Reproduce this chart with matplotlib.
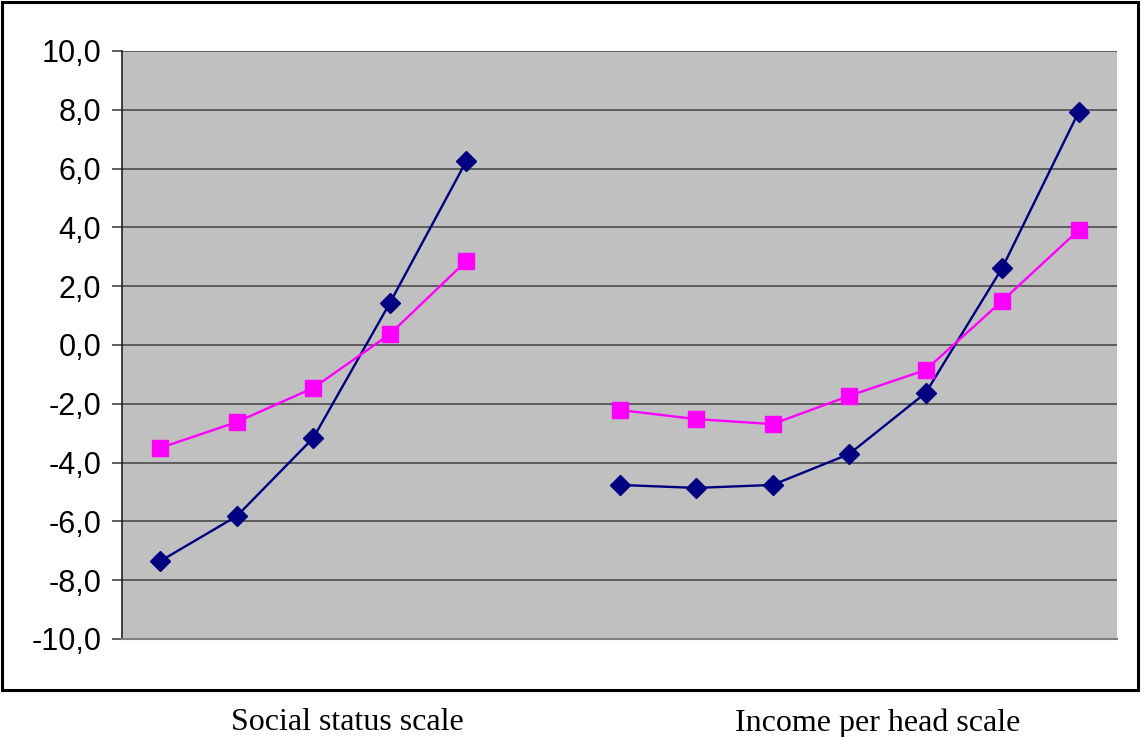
import numpy as np
import matplotlib
matplotlib.use("Agg")
import matplotlib.pyplot as plt
from matplotlib.patches import Rectangle
from matplotlib.ticker import FixedLocator, FuncFormatter

# Scale positions: 5 social status groups, a gap, then 7 income groups
social_pos = [0, 1, 2, 3, 4]
income_pos = [6, 7, 8, 9, 10, 11, 12]

social_blue = [-7.35, -5.82, -3.16, 1.43, 6.26]
social_pink = [-3.50, -2.62, -1.46, 0.37, 2.86]

income_blue = [-4.76, -4.86, -4.76, -3.71, -1.63, 2.62, 7.93]
income_pink = [-2.21, -2.52, -2.69, -1.73, -0.85, 1.50, 3.91]

group_labels = ["Social status scale", "Income per head scale"]
y_ticks = [-10, -8, -6, -4, -2, 0, 2, 4, 6, 8, 10]

W, H = 1141, 737
fig = plt.figure(figsize=(W / 100, H / 100), dpi=100)
fig.patch.set_facecolor("white")

ax = fig.add_axes([122 / W, (H - 639) / H, 995 / W, 588 / H])
ax.set_facecolor("#C0C0C0")
ax.set_xlim(-0.5, 12.5)
ax.set_ylim(-10, 10)

ax.yaxis.set_major_locator(FixedLocator(y_ticks))
ax.yaxis.set_major_formatter(FuncFormatter(lambda v, p: f"{v:.1f}".replace(".", ",")))
ax.set_xticks([])
ax.grid(axis="y", color="#555555", linewidth=1.3)
ax.set_axisbelow(True)

for s in ["top", "right"]:
    ax.spines[s].set_visible(False)
ax.spines["left"].set_color("#222222")
ax.spines["left"].set_linewidth(1.2)
ax.spines["bottom"].set_color("#808080")
ax.spines["bottom"].set_linewidth(1.5)

ax.tick_params(axis="y", direction="out", length=7, width=1.2, color="#444444",
               labelsize=22, pad=8)
for lbl in ax.get_yticklabels():
    lbl.set_fontfamily("Liberation Sans")

navy = "#000080"
pink = "#FF00FF"
for xs, b, p in [(social_pos, social_blue, social_pink), (income_pos, income_blue, income_pink)]:
    ax.plot(xs, b, color=navy, linewidth=1.7, marker="D", markersize=10,
            markerfacecolor=navy, markeredgecolor=navy, zorder=3)
    ax.plot(xs, p, color=pink, linewidth=1.7, marker="s", markersize=11.5,
            markerfacecolor=pink, markeredgecolor=pink, zorder=3)

# Outer chart frame
fig.patches.append(Rectangle((2 / W, (H - 690) / H), 1136 / W, 688 / H,
                             transform=fig.transFigure, fill=False,
                             edgecolor="black", linewidth=2.2))

fig.text(347 / W, 1 - 723 / H, group_labels[0], ha="center", va="center",
         fontsize=23, fontfamily="Liberation Serif")
fig.text(878 / W, 1 - 723 / H, group_labels[1], ha="center", va="center",
         fontsize=23, fontfamily="Liberation Serif")

fig.savefig("out.png", dpi=100)
